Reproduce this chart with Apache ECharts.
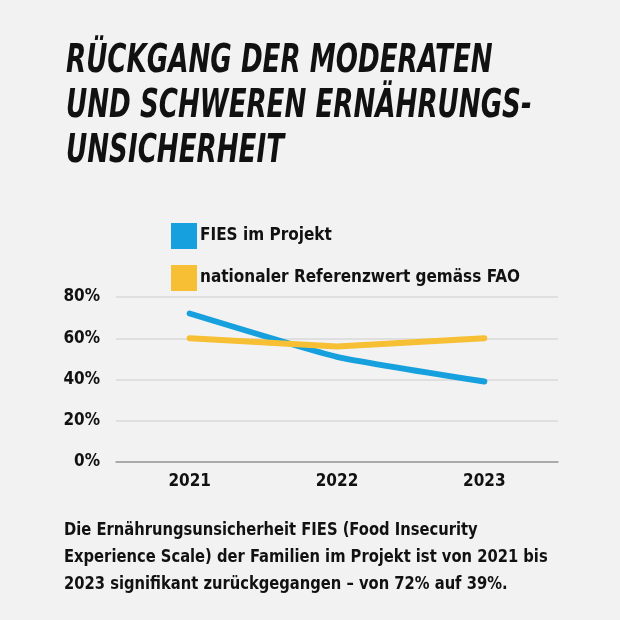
<!DOCTYPE html>
<html><head><meta charset="utf-8">
<script src="https://cdn.jsdelivr.net/npm/echarts@6/dist/echarts.min.js"></script>
<style>html,body{margin:0;padding:0;background:#f3f2f2;}#c{width:620px;height:620px;}</style>
</head><body><div id="c"></div>
<script>
const years = ['2021', '2022', '2023'];
const fiesProjekt = [72, 51, 39];
const faoReferenz = [60, 56, 60];
const seriesNames = ['FIES im Projekt', 'nationaler Referenzwert gemäss FAO'];
const titleLines = ['RÜCKGANG DER MODERATEN', 'UND SCHWEREN ERNÄHRUNGS-', 'UNSICHERHEIT'];
const noteLines = ['Die Ernährungsunsicherheit FIES (Food Insecurity', 'Experience Scale) der Familien im Projekt ist von 2021 bis', '2023 signifikant zurückgegangen – von 72% auf 39%.'];

const FONT = "'DejaVu Sans Condensed','Roboto',sans-serif";
const chart = echarts.init(document.getElementById('c'));
chart.setOption({
  backgroundColor: '#f3f2f2',
  animation: false,
  textStyle: {fontFamily: FONT},
  graphic: [
    {type: 'text', x: 66, y: 39, scaleX: 0.745, style: {text: titleLines.join('\n'), font: "italic bold 39px 'DejaVu Sans Condensed'", fill: '#111', lineHeight: 45, verticalAlign: 'top'}},
    {type: 'text', x: 64, y: 517, scaleX: 0.91, style: {text: noteLines.join('\n'), font: "bold 18px " + FONT, fill: '#111', lineHeight: 27, verticalAlign: 'top'}}
  ],
  legend: {
    orient: 'vertical', left: 166, top: 218, itemWidth: 26, itemHeight: 26, itemGap: 16,
    icon: 'rect',
    textStyle: {fontSize: 17, fontWeight: 'bold', color: '#111', fontFamily: FONT, padding: [0,0,0,-2]},
    data: seriesNames
  },
  grid: {left: 116, right: 62, top: 297, height: 165},
  xAxis: {
    type: 'category', data: years, boundaryGap: true,
    axisLine: {lineStyle: {color: '#999', width: 1.5}}, axisTick: {show: false},
    axisLabel: {fontSize: 17, fontWeight: 'bold', color: '#111', margin: 11, fontFamily: FONT}
  },
  yAxis: {
    type: 'value', min: 0, max: 80, interval: 20,
    axisLine: {show: false}, axisTick: {show: false},
    splitLine: {lineStyle: {color: '#d9d9d9', width: 1.5}},
    axisLabel: {formatter: '{value}%', fontSize: 17, fontWeight: 'bold', color: '#111', margin: 16, fontFamily: FONT}
  },
  series: [
    {name: seriesNames[0], type: 'line', data: fiesProjekt, showSymbol: false, smooth: 0.15, color: '#17a0de', lineStyle: {width: 6, cap: 'round', color: '#17a0de'}},
    {name: seriesNames[1], type: 'line', data: faoReferenz, showSymbol: false, color: '#f6bf34', lineStyle: {width: 6, cap: 'round', color: '#f6bf34'}}
  ]
});
</script></body></html>
